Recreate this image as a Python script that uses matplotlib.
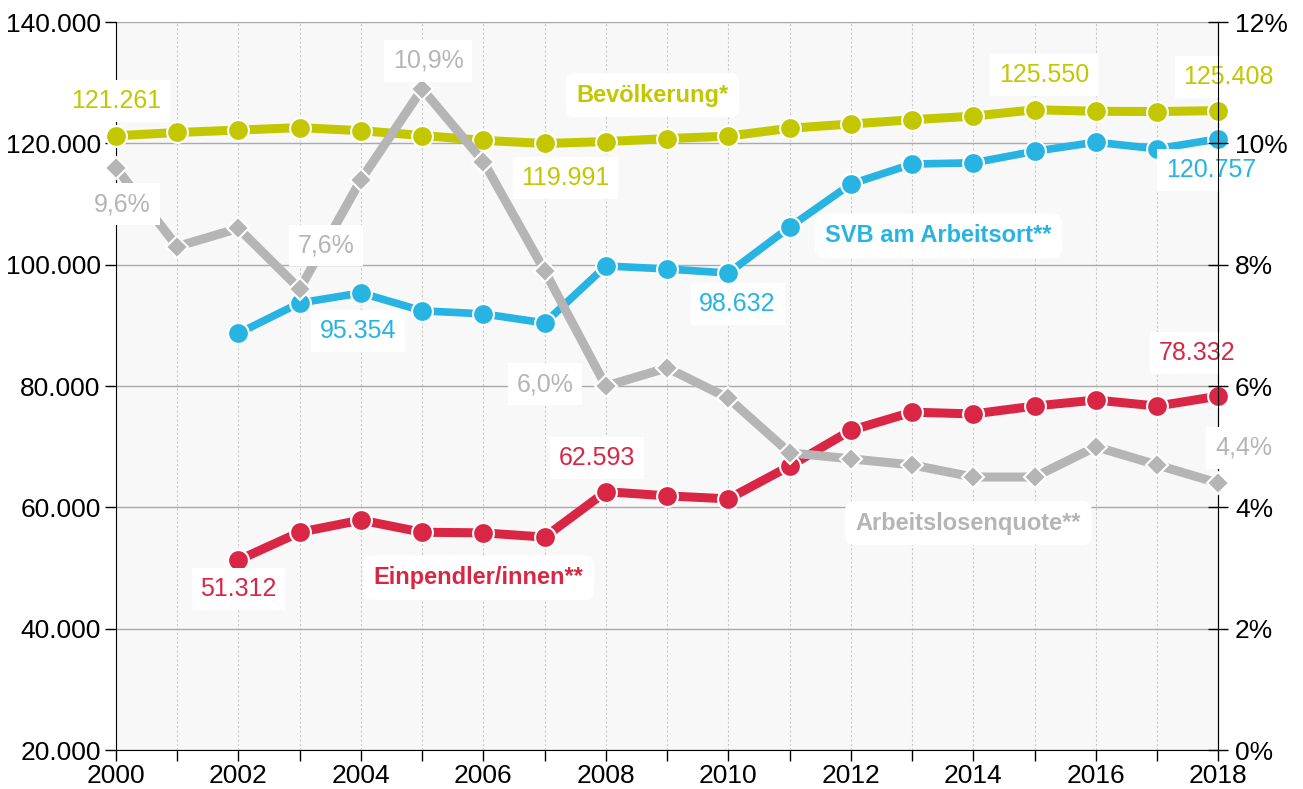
import matplotlib

matplotlib.use("Agg")
import matplotlib.pyplot as plt

plt.rcParams["font.family"] = ["Liberation Sans", "DejaVu Sans"]

years = list(range(2000, 2019))
years_from_2002 = list(range(2002, 2019))

bevoelkerung = [121261, 121800, 122200, 122600, 122100, 121300, 120500, 119991, 120300,
                120800, 121200, 122500, 123200, 123900, 124500, 125550, 125300, 125250, 125408]
svb = [88700, 93700, 95354, 92400, 91900, 90400, 99800, 99300, 98632,
       106200, 113300, 116600, 116800, 118700, 120200, 119100, 120757]
einpendler = [51312, 55900, 57900, 55900, 55800, 55100, 62593, 61900, 61400,
              66800, 72700, 75700, 75400, 76700, 77700, 76700, 78332]
arbeitslosenquote = [9.6, 8.3, 8.6, 7.6, 9.4, 10.9, 9.7, 7.9, 6.0, 6.3, 5.8,
                     4.9, 4.8, 4.7, 4.5, 4.5, 5.0, 4.7, 4.4]

c_yellow = "#c2c700"
c_blue = "#27b4e3"
c_red = "#d92645"
c_gray = "#b4b5b4"

fig = plt.figure(figsize=(13.03, 7.89), dpi=100)
ax = fig.add_axes([0.089, 0.0494, 0.846, 0.9226])
ax2 = ax.twinx()
ax.set_zorder(ax2.get_zorder() - 1)
ax.set_facecolor("#f8f8f8")
ax2.patch.set_visible(False)

ax.set_xlim(2000, 2018)
ax.set_ylim(20000, 140000)
ax2.set_ylim(0, 12)

ax.set_yticks(range(20000, 140001, 20000))
ax.set_yticklabels([f"{v // 1000}.000" for v in range(20000, 140001, 20000)], fontsize=19)
ax2.set_yticks(range(0, 13, 2))
ax2.set_yticklabels([f"{v}%" for v in range(0, 13, 2)], fontsize=19)
ax.set_xticks(years)
ax.set_xticklabels([str(y) if y % 2 == 0 else "" for y in years], fontsize=19)

ax.grid(axis="y", color="#aaaaaa", linewidth=1)
ax.grid(axis="x", color="#c8c8c8", linewidth=0.8, linestyle=(0, (2, 2)))
ax.tick_params(axis="y", direction="out", length=8, width=1, pad=3)
ax.tick_params(axis="x", direction="out", length=8, width=1, pad=2)
ax2.tick_params(axis="y", direction="inout", length=14, width=1, pad=5)
for a in (ax, ax2):
    a.spines["top"].set_visible(False)
ax2.spines["left"].set_visible(False)
ax2.spines["bottom"].set_visible(False)

ax.plot(years, bevoelkerung, color=c_yellow, lw=6.5, marker="o", ms=15,
        mec="white", mew=1.5, zorder=3, clip_on=False)
ax.plot(years_from_2002, svb, color=c_blue, lw=5.5, marker="o", ms=15,
        mec="white", mew=1.5, zorder=5, clip_on=False)
ax.plot(years_from_2002, einpendler, color=c_red, lw=6.5, marker="o", ms=15,
        mec="white", mew=1.5, zorder=5, clip_on=False)
ax2.plot(years, arbeitslosenquote, color=c_gray, lw=6.5, marker="D", ms=11,
         mec="white", mew=1.5, zorder=4, clip_on=False)

sq = dict(boxstyle="square,pad=0.35", fc="white", ec="none")
rd = dict(boxstyle="round,pad=0.45,rounding_size=0.4", fc="white", ec="none")


def vlabel(axis, x, y, text, color):
    axis.text(x, y, text, color=color, fontsize=18, ha="center", va="center",
              bbox=sq, zorder=10)


vlabel(ax, 2000.0, 127000, "121.261", c_yellow)
vlabel(ax, 2007.34, 114300, "119.991", c_yellow)
vlabel(ax, 2015.15, 131300, "125.550", c_yellow)
vlabel(ax, 2018.17, 130950, "125.408", c_yellow)
vlabel(ax, 2003.95, 89100, "95.354", c_blue)
vlabel(ax, 2010.15, 93500, "98.632", c_blue)
vlabel(ax, 2017.88, 115600, "120.757", c_blue)
vlabel(ax, 2002.0, 46550, "51.312", c_red)
vlabel(ax, 2007.86, 68150, "62.593", c_red)
vlabel(ax, 2017.66, 85450, "78.332", c_red)
vlabel(ax2, 2000.11, 9.0, "9,6%", c_gray)
vlabel(ax2, 2005.1, 11.36, "10,9%", c_gray)
vlabel(ax2, 2003.43, 8.32, "7,6%", c_gray)
vlabel(ax2, 2007.01, 6.03, "6,0%", c_gray)
vlabel(ax2, 2018.41, 4.98, "4,4%", c_gray)

ax.text(2008.76, 127950, "Bevölkerung*", color=c_yellow, fontsize=17,
        fontweight="bold", ha="center", va="center", bbox=rd, zorder=10)
ax.text(2013.43, 104750, "SVB am Arbeitsort**", color=c_blue, fontsize=17,
        fontweight="bold", ha="center", va="center", bbox=rd, zorder=10)
ax.text(2005.92, 48400, "Einpendler/innen**", color=c_red, fontsize=17,
        fontweight="bold", ha="center", va="center", bbox=rd, zorder=10)
ax2.text(2013.92, 3.74, "Arbeitslosenquote**", color=c_gray, fontsize=17,
         fontweight="bold", ha="center", va="center", bbox=rd, zorder=10)

fig.savefig("out.png", dpi=100)
